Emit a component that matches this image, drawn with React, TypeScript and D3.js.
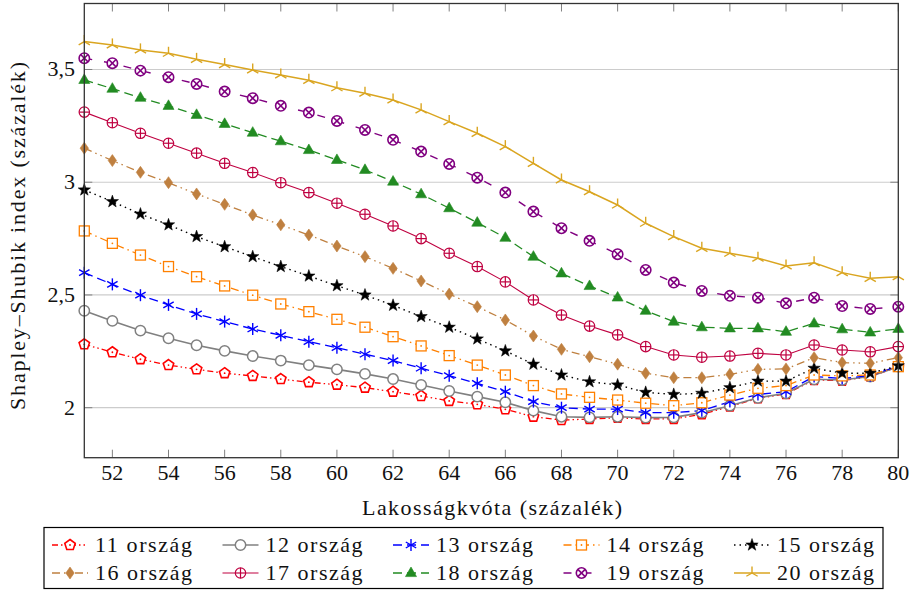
import React from "react";
import * as d3 from "d3";

const quotas = [51, 52, 53, 54, 55, 56, 57, 58, 59, 60, 61, 62, 63, 64, 65, 66, 67, 68, 69, 70, 71, 72, 73, 74, 75, 76, 77, 78, 79, 80];
const xTicks = [52, 54, 56, 58, 60, 62, 64, 66, 68, 70, 72, 74, 76, 78, 80];
const yTicks = [2, 2.5, 3, 3.5];
const yTickLabels = ["2", "2,5", "3", "3,5"];

const s11 = [2.281, 2.246, 2.215, 2.189, 2.170, 2.153, 2.141, 2.127, 2.113, 2.102, 2.089, 2.071, 2.052, 2.030, 2.015, 1.993, 1.960, 1.945, 1.950, 1.955, 1.950, 1.950, 1.971, 2.005, 2.042, 2.061, 2.123, 2.120, 2.138, 2.182];
const s12 = [2.430, 2.385, 2.342, 2.308, 2.277, 2.252, 2.229, 2.209, 2.189, 2.170, 2.150, 2.127, 2.101, 2.074, 2.049, 2.024, 1.987, 1.960, 1.957, 1.960, 1.956, 1.957, 1.978, 2.009, 2.044, 2.064, 2.126, 2.123, 2.138, 2.182];
const s13 = [2.599, 2.547, 2.499, 2.456, 2.416, 2.382, 2.349, 2.321, 2.293, 2.266, 2.237, 2.209, 2.175, 2.142, 2.108, 2.071, 2.027, 2.000, 1.994, 1.994, 1.978, 1.978, 1.987, 2.027, 2.059, 2.071, 2.138, 2.130, 2.142, 2.185];
const s14 = [2.784, 2.729, 2.677, 2.626, 2.581, 2.540, 2.499, 2.460, 2.426, 2.392, 2.357, 2.315, 2.274, 2.231, 2.189, 2.145, 2.098, 2.061, 2.046, 2.034, 2.020, 2.009, 2.022, 2.056, 2.086, 2.098, 2.145, 2.141, 2.145, 2.182];
const s15 = [2.966, 2.914, 2.859, 2.811, 2.759, 2.714, 2.670, 2.626, 2.584, 2.541, 2.500, 2.454, 2.404, 2.357, 2.305, 2.252, 2.193, 2.145, 2.115, 2.101, 2.068, 2.059, 2.064, 2.089, 2.118, 2.118, 2.175, 2.153, 2.153, 2.186];
const s16 = [3.151, 3.096, 3.044, 2.998, 2.948, 2.902, 2.855, 2.811, 2.766, 2.717, 2.670, 2.618, 2.562, 2.504, 2.448, 2.389, 2.318, 2.259, 2.226, 2.193, 2.153, 2.133, 2.133, 2.148, 2.170, 2.172, 2.222, 2.200, 2.197, 2.222];
const s17 = [3.311, 3.264, 3.217, 3.173, 3.129, 3.084, 3.043, 2.998, 2.954, 2.907, 2.858, 2.806, 2.750, 2.685, 2.626, 2.558, 2.478, 2.411, 2.362, 2.323, 2.271, 2.234, 2.224, 2.229, 2.241, 2.234, 2.278, 2.256, 2.248, 2.271];
const s18 = [3.454, 3.415, 3.375, 3.339, 3.299, 3.259, 3.220, 3.182, 3.143, 3.099, 3.055, 3.003, 2.947, 2.885, 2.821, 2.754, 2.670, 2.596, 2.540, 2.489, 2.430, 2.382, 2.357, 2.352, 2.352, 2.337, 2.374, 2.348, 2.334, 2.350];
const s19 = [3.550, 3.528, 3.495, 3.466, 3.436, 3.402, 3.373, 3.339, 3.309, 3.272, 3.232, 3.188, 3.136, 3.081, 3.020, 2.954, 2.870, 2.796, 2.740, 2.681, 2.611, 2.555, 2.518, 2.496, 2.488, 2.463, 2.488, 2.451, 2.438, 2.448];
const s20 = [3.624, 3.609, 3.587, 3.572, 3.545, 3.522, 3.498, 3.476, 3.452, 3.419, 3.395, 3.365, 3.321, 3.269, 3.217, 3.158, 3.084, 3.010, 2.958, 2.899, 2.818, 2.759, 2.707, 2.685, 2.663, 2.629, 2.643, 2.599, 2.574, 2.581];

const seriesNames = ["11 ország", "12 ország", "13 ország", "14 ország", "15 ország", "16 ország", "17 ország", "18 ország", "19 ország", "20 ország"];
const seriesValues = [s11, s12, s13, s14, s15, s16, s17, s18, s19, s20];
const seriesColors = ["#ff0000", "#808080", "#0000ff", "#ff8000", "#000000", "#bf8040", "#bf0040", "#228b22", "#800080", "#daa520"];
const seriesDash = ["6,3,1.5,3,1.5,3", "", "9,5", "8,4,1.5,4", "1.5,4", "8,4,1.5,4,1.5,4", "", "9,5", "8,12", ""];
const seriesWidth = [1.3, 1.6, 1.3, 1.3, 1.4, 1.3, 1.1, 1.3, 1.4, 1.5];
const seriesMarker = ["pentagon", "circle", "asterisk", "square", "star", "diamond", "oplus", "triangle", "otimes", "mercedes"];

const W = 918, H = 590;
const L = 84.3, R = 898.3, T = 3.5, B = 457.7;
const FONT = "Liberation Serif, DejaVu Serif, Times New Roman, serif";

function Marker({ type, x, y, c }: { type: string; x: number; y: number; c: string }) {
  switch (type) {
    case "pentagon": {
      const r = 5.5;
      const pts = d3.range(5).map((k) => {
        const a = (-90 + k * 72) * Math.PI / 180;
        return `${x + r * Math.cos(a)},${y + r * Math.sin(a)}`;
      }).join(" ");
      return <g><polygon points={pts} fill="#fff" stroke={c} strokeWidth={1.6} /><circle cx={x} cy={y} r={0.9} fill={c} /></g>;
    }
    case "circle":
      return <circle cx={x} cy={y} r={5.2} fill="#fff" stroke={c} strokeWidth={1.5} />;
    case "asterisk": {
      const r = 6;
      return <g stroke={c} strokeWidth={1.4}>{[90, 30, 150].map((a) => {
        const rad = a * Math.PI / 180;
        return <line key={a} x1={x - r * Math.cos(rad)} y1={y - r * Math.sin(rad)} x2={x + r * Math.cos(rad)} y2={y + r * Math.sin(rad)} />;
      })}</g>;
    }
    case "square":
      return <g><rect x={x - 5} y={y - 5} width={10} height={10} fill="#fff" stroke={c} strokeWidth={1.3} /><circle cx={x} cy={y} r={0.9} fill={c} /></g>;
    case "star": {
      const ro = 6.5, ri = 2.6;
      const pts = d3.range(10).map((k) => {
        const a = (-90 + k * 36) * Math.PI / 180;
        const r = k % 2 === 0 ? ro : ri;
        return `${x + r * Math.cos(a)},${y + r * Math.sin(a)}`;
      }).join(" ");
      return <polygon points={pts} fill={c} stroke={c} strokeWidth={0.5} />;
    }
    case "diamond":
      return <polygon points={`${x},${y - 6} ${x + 4.2},${y} ${x},${y + 6} ${x - 4.2},${y}`} fill={c} stroke={c} strokeWidth={0.6} />;
    case "oplus":
      return <g stroke={c} strokeWidth={1.2} fill="#fff"><circle cx={x} cy={y} r={5.2} /><line x1={x - 5.2} y1={y} x2={x + 5.2} y2={y} /><line x1={x} y1={y - 5.2} x2={x} y2={y + 5.2} /></g>;
    case "triangle": {
      const r = 6;
      return <polygon points={`${x},${y - r} ${x + r * 0.92},${y + r * 0.6} ${x - r * 0.92},${y + r * 0.6}`} fill={c} stroke={c} strokeWidth={0.6} />;
    }
    case "otimes": {
      const r = 5.2, d = r * 0.707;
      return <g stroke={c} strokeWidth={1.6} fill="#fff"><circle cx={x} cy={y} r={r} /><line x1={x - d} y1={y - d} x2={x + d} y2={y + d} /><line x1={x - d} y1={y + d} x2={x + d} y2={y - d} /></g>;
    }
    case "mercedes": {
      const r = 6.5;
      return <g stroke={c} strokeWidth={1.4}>{[90, 210, 330].map((a) => {
        const rad = a * Math.PI / 180;
        return <line key={a} x1={x} y1={y} x2={x + r * Math.cos(rad)} y2={y - r * Math.sin(rad)} />;
      })}</g>;
    }
  }
  return null;
}

export default function App() {
  const x = d3.scaleLinear().domain([51, 80]).range([L, R]);
  const y = d3.scaleLinear().domain([2 - (B - 407.7) / 225.47, 3.5 + (69.5 - T) / 225.47]).range([B, T]);
  const line = d3.line<number>().x((_, i) => x(quotas[i])).y((d) => y(d));

  const legendX0 = 52, legendPitch = 170.5;
  const legendRows = [545, 573];
  const ts: React.CSSProperties = { fontFamily: FONT };

  return (
    <svg width={W} height={H} style={{ position: "absolute", left: 0, top: 0, background: "#fff", fontFamily: FONT }}>
      <rect x={0} y={0} width={W} height={H} fill="#fff" />
      {yTicks.map((t) => (
        <line key={"g" + t} x1={L} x2={R} y1={y(t)} y2={y(t)} stroke="#cccccc" strokeWidth={1.2} />
      ))}
      {xTicks.map((t) => (
        <g key={"xt" + t} stroke="#808080" strokeWidth={1}>
          <line x1={x(t)} x2={x(t)} y1={B} y2={B - 8} />
          <line x1={x(t)} x2={x(t)} y1={T} y2={T + 8} />
        </g>
      ))}
      {yTicks.map((t) => (
        <g key={"yt" + t} stroke="#808080" strokeWidth={1}>
          <line x1={L} x2={L + 8} y1={y(t)} y2={y(t)} />
          <line x1={R} x2={R - 8} y1={y(t)} y2={y(t)} />
        </g>
      ))}
      {seriesValues.map((vals, si) => (
        <path key={"l" + si} d={line(vals) || ""} fill="none" stroke={seriesColors[si]} strokeWidth={seriesWidth[si]} strokeDasharray={seriesDash[si] || undefined} />
      ))}
      {seriesValues.map((vals, si) => (
        <g key={"m" + si}>
          {vals.map((v, i) => (
            <Marker key={i} type={seriesMarker[si]} x={x(quotas[i])} y={y(v)} c={seriesColors[si]} />
          ))}
        </g>
      ))}
      <rect x={L} y={T} width={R - L} height={B - T} fill="none" stroke="#333" strokeWidth={1.3} />
      {xTicks.map((t) => (
        <text key={"xl" + t} style={ts} x={x(t)} y={480} textAnchor="middle" fontSize={22} fill="#111">{t}</text>
      ))}
      {yTicks.map((t, i) => (
        <text key={"yl" + t} style={ts} x={75} y={y(t) + 7} textAnchor="end" fontSize={22} fill="#111">{yTickLabels[i]}</text>
      ))}
      <text style={ts} x={492} y={515} textAnchor="middle" fontSize={22} fill="#111" textLength={260} lengthAdjust="spacing">Lakosságkvóta (százalék)</text>
      <text style={ts} transform="translate(25,236) rotate(-90)" textAnchor="middle" fontSize={22} fill="#111" textLength={348} lengthAdjust="spacing">Shapley–Shubik index (százalék)</text>
      <rect x={44} y={527.5} width={839} height={61} fill="#fff" stroke="#000" strokeWidth={1.2} />
      {seriesNames.map((name, si) => {
        const col = si % 5, row = Math.floor(si / 5);
        const lx = legendX0 + col * legendPitch;
        const ly = legendRows[row];
        return (
          <g key={"lg" + si}>
            <line x1={lx} x2={lx + 36} y1={ly} y2={ly} stroke={seriesColors[si]} strokeWidth={seriesWidth[si]} strokeDasharray={seriesDash[si] || undefined} />
            <Marker type={seriesMarker[si]} x={lx + 18} y={ly} c={seriesColors[si]} />
            <text style={ts} x={lx + 43} y={ly + 7} fontSize={22} fill="#111" textLength={97} lengthAdjust="spacing">{name}</text>
          </g>
        );
      })}
    </svg>
  );
}
